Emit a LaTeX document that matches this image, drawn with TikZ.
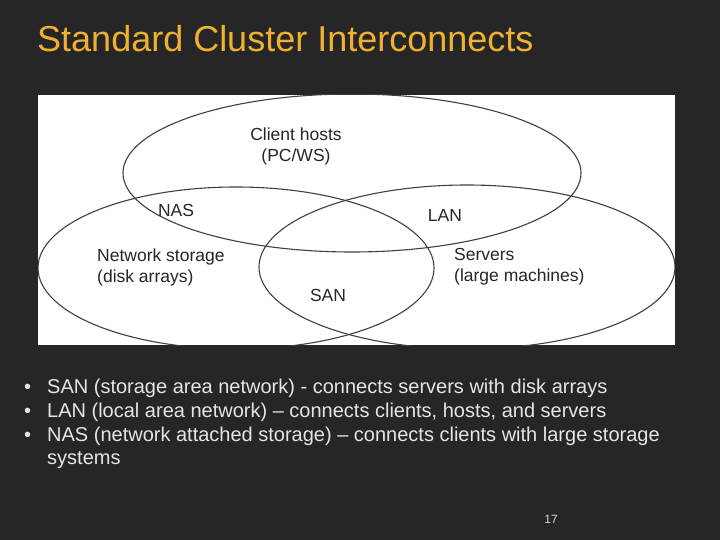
\documentclass[tikz,border=0pt]{standalone}
\usepackage{fontspec}
\setmainfont{Liberation Sans}
\begin{document}
\begin{tikzpicture}[x=1pt,y=-1pt,
  lab/.style={font=\fontsize{17.5}{21}\selectfont,text=black!85,align=left,inner sep=0},
  bul/.style={font=\fontsize{20}{24}\selectfont,text=white!90!black,anchor=west,inner sep=0},
  ov/.style={draw=black!75,line width=1.1pt}]
\fill[black!85] (0,0) rectangle (720,540);
\useasboundingbox (0,0) rectangle (720,540);
\node[anchor=west,inner sep=0,font=\fontsize{36}{40}\selectfont,text={rgb,255:red,240;green,176;blue,48}] (title) at (37,39) {Standard Cluster Interconnects};
\fill[white] (38,95) rectangle (675,345);
\begin{scope}
\clip (38,95) rectangle (675,345);
\draw[ov] (352,173) ellipse [x radius=229,y radius=79];
\draw[ov] (236,268) ellipse [x radius=198,y radius=81];
\draw[ov] (467,267) ellipse [x radius=208,y radius=82];
\end{scope}
\node[lab,align=center] (ch) at (296,146) {Client hosts\\(PC/WS)};
\node[lab] (nas) at (176,210) {NAS};
\node[lab] (lan) at (445,215) {LAN};
\node[lab,anchor=west] (ns) at (97,267) {Network storage\\(disk arrays)};
\node[lab,anchor=west] (sv) at (454,267) {Servers\\(large machines)};
\node[lab] (san) at (328,295) {SAN};
\node[bul] (b1) at (24,388) {•\hspace{16pt}SAN (storage area network) - connects servers with disk arrays};
\node[bul] (b2) at (24,412) {•\hspace{16pt}LAN (local area network) – connects clients, hosts, and servers};
\node[bul] (b3) at (24,436) {•\hspace{16pt}NAS (network attached storage) – connects clients with large storage};
\node[bul] (b4) at (47,460) {systems};
\node[inner sep=0,font=\fontsize{12}{14}\selectfont,text=white!85!black] (pg) at (551,519) {17};
\end{tikzpicture}
\end{document}
